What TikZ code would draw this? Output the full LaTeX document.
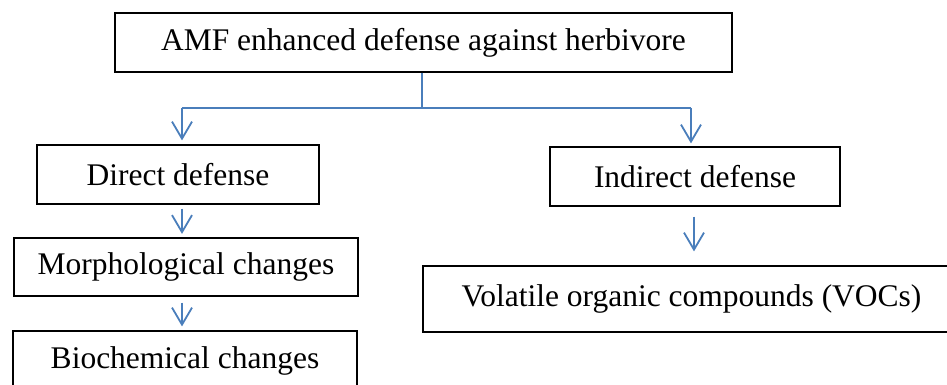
\documentclass[tikz,border=0pt]{standalone}
\usepackage{fontspec}
\setmainfont{Liberation Serif}
\usetikzlibrary{arrows.meta}
\definecolor{arrowblue}{RGB}{74,126,187}
\tikzset{
  box/.style={draw=black, line width=1.2pt, rectangle, inner sep=0pt, font=\fontsize{31.5}{36}\selectfont},
  link/.style={draw=arrowblue, line width=1.8pt},
  arr/.style={link, -{Straight Barb[length=17pt, width=20pt, line width=1.8pt]}}
}
\begin{document}
\begin{tikzpicture}[x=1pt, y=-1pt]
\useasboundingbox (0,0) rectangle (947,385);
\clip (0,0) rectangle (947,385);
\fill[white] (0,0) rectangle (947,385);
\node[box, minimum width=617pt, minimum height=59pt] (top) at (423.5,42.5) {AMF enhanced defense against herbivore};
\node[box, minimum width=282pt, minimum height=59pt] (direct) at (178,174.5) {Direct defense};
\node[box, minimum width=344pt, minimum height=58pt] (morph) at (186,267) {Morphological changes};
\node[box, minimum width=344pt, minimum height=59pt] (bio) at (185,360.5) {Biochemical changes};
\node[box, minimum width=290pt, minimum height=59pt] (indirect) at (695,176.5) {Indirect defense};
\node[box, minimum width=537pt, minimum height=66pt] (vocs) at (691.5,299) {Volatile organic compounds (VOCs)};
\coordinate (split) at (422,108);
\coordinate (jl) at (182,108);
\coordinate (jr) at (691,108);
\coordinate (ia) at (694,0);
\draw[link] (top.south -| split) -- (split);
\draw[link] (jl) -- (jr);
\draw[arr, shorten >=4pt] (jl) -- (direct.north -| jl);
\draw[arr, shorten >=3pt] (jr) -- (indirect.north -| jr);
\draw[arr, shorten <=4pt, shorten >=3.5pt] ([xshift=4pt]direct.south) -- ([xshift=-4pt]morph.north);
\draw[arr, shorten <=6pt, shorten >=4pt] ([xshift=-4pt]morph.south) -- ([xshift=-3pt]bio.north);
\draw[arr, shorten <=10pt, shorten >=14pt] (indirect.south -| ia) -- (vocs.north -| ia);
\end{tikzpicture}
\end{document}
